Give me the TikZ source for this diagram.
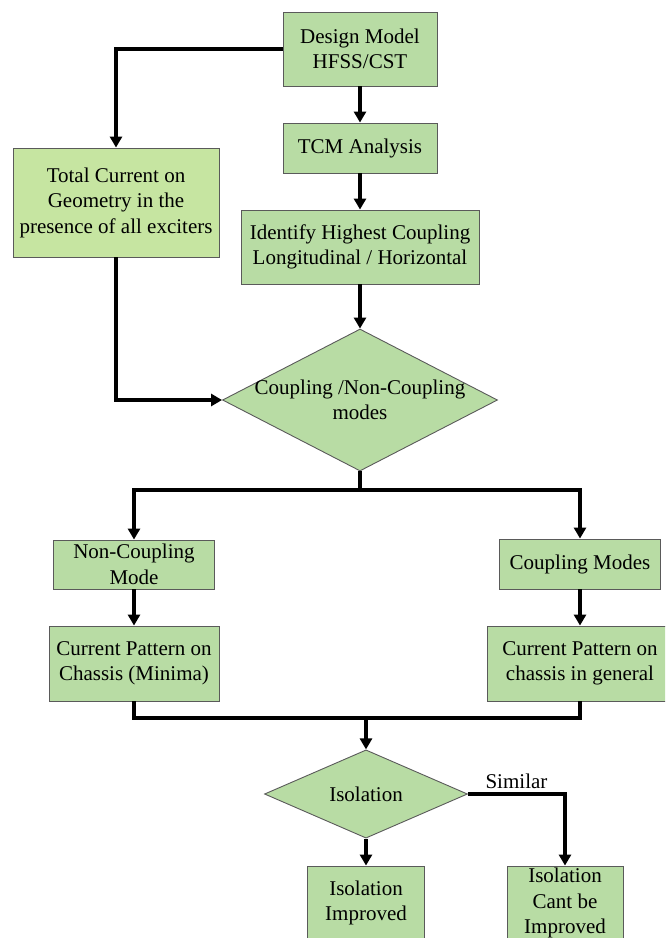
\documentclass[tikz,border=0pt]{standalone}
\usepackage{fontspec}
\setmainfont{Liberation Serif}
\usetikzlibrary{shapes.geometric,arrows.meta}

\definecolor{boxgreen}{RGB}{184,220,164}
\definecolor{palegreen}{RGB}{198,229,161}
\definecolor{edgegray}{RGB}{90,90,90}

\tikzstyle{block}=[draw=edgegray, fill=boxgreen, line width=0.9pt, align=center, inner sep=0pt]
\tikzstyle{paleblock}=[block, fill=palegreen]
\tikzstyle{decision}=[draw=edgegray, fill=boxgreen, line width=0.9pt, diamond, align=center, inner sep=0pt]
\tikzstyle{flow}=[line width=3.8pt, -{Triangle[length=11pt,width=12pt]}]
\tikzstyle{link}=[line width=3.8pt]

\begin{document}
\begin{tikzpicture}[x=1pt, y=-1pt, font={\fontsize{21}{25.5}\selectfont}]
\useasboundingbox (0,0) rectangle (665,938);
\clip (0,0) rectangle (665,938);

% main column
\node[block, minimum width=154pt, minimum height=74pt] (design) at (360,49) {Design Model\\HFSS/CST};
\node[block, minimum width=154pt, minimum height=50pt] (tcm) at (360,148) {TCM Analysis};
\node[block, minimum width=238pt, minimum height=74pt] (identify) at (360,247) {Identify Highest Coupling\\Longitudinal / Horizontal};
\node[paleblock, minimum width=206pt, minimum height=109pt] (total) at (116,202.5) {Total Current on\\Geometry in the\\presence of all exciters};
\node[decision, minimum width=275pt, minimum height=142pt,
  label={[align=center]center:Coupling /Non-Coupling\\modes}] (modes) at (360,400) {};

% two branches
\node[block, minimum width=161pt, minimum height=49pt] (noncoup) at (134,564.5) {Non-Coupling\\Mode};
\node[block, minimum width=161pt, minimum height=50pt] (coup) at (580,564) {Coupling Modes};
\node[block, minimum width=170pt, minimum height=75pt] (minima) at (134,663.5) {Current Pattern on\\Chassis (Minima)};
\node[block, minimum width=186pt, minimum height=75pt] (general) at (580,663.5) {Current Pattern on\\chassis in general};

% result
\node[decision, minimum width=203pt, minimum height=86pt] (iso) at (366,794) {Isolation};
\node[block, minimum width=117pt, minimum height=74pt] (improved) at (366,903) {Isolation\\Improved};
\node[block, minimum width=116pt, minimum height=74pt] (cant) at (565,903) {Isolation\\Cant be\\Improved};

\coordinate (split) at (360,490);
\coordinate (merge) at (366,718);

\draw[flow] (design.west) -| (total.north);
\draw[flow] (design) -- (tcm);
\draw[flow] (tcm) -- (identify);
\draw[flow] (identify) -- (modes);
\draw[flow] (total.south) |- (modes.west);
\draw[link] (modes.south) -- (split);
\draw[flow] (split) -| (noncoup.north);
\draw[flow] (split) -| (coup.north);
\draw[flow] (noncoup) -- (minima);
\draw[flow] (coup) -- (general);
\draw[link] (minima.south) |- (merge) -| (general.south);
\draw[flow] (merge) -- (iso);
\draw[flow] (iso) -- (improved);
\draw[flow] (iso.east) -| node[above, pos=0.25] {Similar} (cant.north);

\end{tikzpicture}
\end{document}
